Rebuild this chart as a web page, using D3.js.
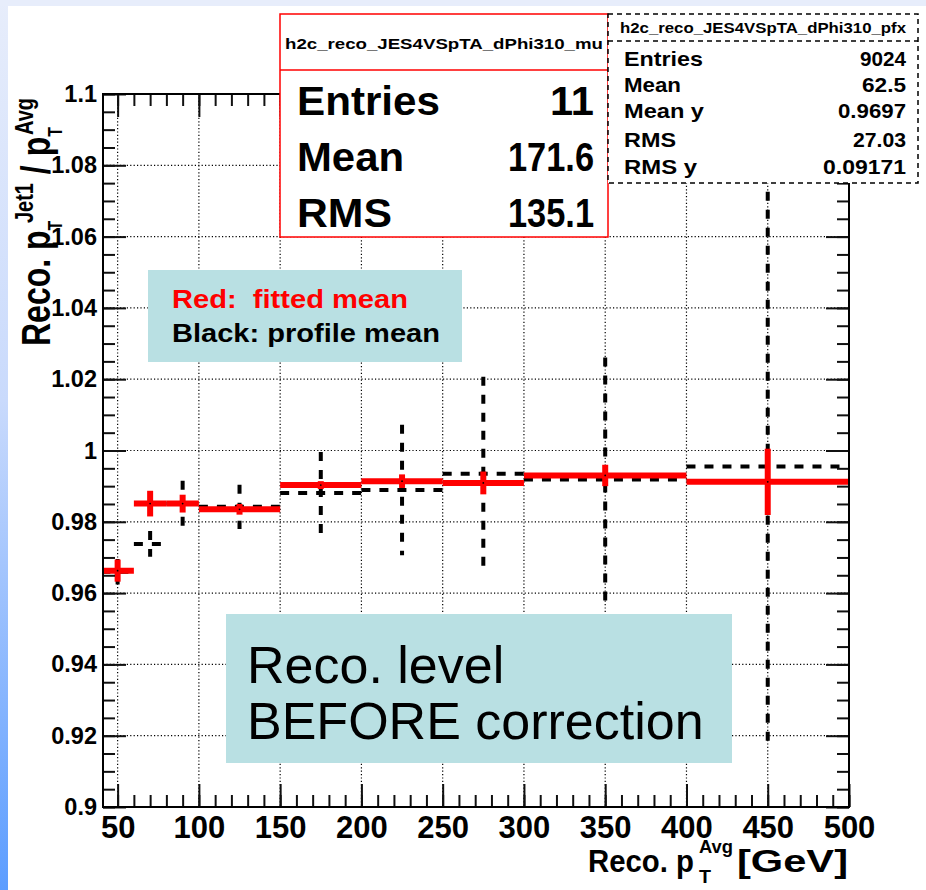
<!DOCTYPE html>
<html>
<head>
<meta charset="utf-8">
<script src="https://cdn.jsdelivr.net/npm/d3@7"></script>
<style>
  html, body { margin: 0; padding: 0; background: #fff; }
  svg { display: block; }
  text { font-family: "Liberation Sans", Arial, Helvetica, sans-serif; }
</style>
</head>
<body>
<script>
// Reconstructed pT^Avg bins (GeV)
const binLow    = [40, 60, 80, 100, 150, 200, 250, 300, 400];
const binHigh   = [60, 80, 100, 150, 200, 250, 300, 400, 500];
const binCenter = [50, 70, 90, 125, 175, 225, 275, 350, 450];

// Gaussian-fitted mean of pT^Jet1 / pT^Avg per bin (red)
const fitMean = [0.9663, 0.9851, 0.9851, 0.9835, 0.9903, 0.9914, 0.9909, 0.9930, 0.9912];
const fitErr  = [0.0031, 0.0036, 0.0025, 0.0015, 0.0011, 0.0019, 0.0032, 0.0030, 0.0093];

// Profile mean per bin (black)
const profMean = [0.9660, 0.9738, 0.9851, 0.9842, 0.9881, 0.9889, 0.9935, 0.9919, 0.9955];
const profErr  = [0.0036, 0.0036, 0.0064, 0.0062, 0.0115, 0.0183, 0.0272, 0.0342, 0.0771];

// Axis ticks
const xTickValues = [50, 100, 150, 200, 250, 300, 350, 400, 450, 500];
const xTickLabels = ["50", "100", "150", "200", "250", "300", "350", "400", "450", "500"];
const yTickValues = [0.9, 0.92, 0.94, 0.96, 0.98, 1.0, 1.02, 1.04, 1.06, 1.08, 1.1];
const yTickLabels = ["0.9", "0.92", "0.94", "0.96", "0.98", "1", "1.02", "1.04", "1.06", "1.08", "1.1"];
const xMinorTicks = d3.range(50, 501, 10);
const yMinorTicks = d3.range(0, 41).map(i => +(0.9 + i * 0.005).toFixed(3));

// Statistics boxes
const muTitle = "h2c_reco_JES4VSpTA_dPhi310_mu";
const muStatNames  = ["Entries", "Mean", "RMS"];
const muStatValues = ["11", "171.6", "135.1"];
const pfxTitle = "h2c_reco_JES4VSpTA_dPhi310_pfx";
const pfxStatNames  = ["Entries", "Mean", "Mean y", "RMS", "RMS y"];
const pfxStatValues = ["9024", "62.5", "0.9697", "27.03", "0.09171"];

const W = 926, H = 890;
const svg = d3.select("body").append("svg").attr("width", W).attr("height", H);

// slide background: pale band on top, blue gradient on the left
const defs = svg.append("defs");
const grad = defs.append("linearGradient").attr("id", "slideGrad")
  .attr("x1", 0).attr("y1", 0).attr("x2", 0).attr("y2", 1);
grad.append("stop").attr("offset", "0%").attr("stop-color", "#e7edfb");
grad.append("stop").attr("offset", "45%").attr("stop-color", "#c9dafc");
grad.append("stop").attr("offset", "100%").attr("stop-color", "#5c9dff");
svg.append("rect").attr("width", W).attr("height", H).attr("fill", "url(#slideGrad)");
svg.append("rect").attr("x", 0).attr("y", 0).attr("width", W).attr("height", 6).attr("fill", "#e7edfb");
svg.append("rect").attr("x", 8).attr("y", 6).attr("width", W - 8).attr("height", H - 6).attr("fill", "#fff");

const plot = { left: 103, right: 849, top: 94, bottom: 807 };
const x = d3.scaleLinear().domain([41, 500]).range([plot.left, plot.right]);
const y = d3.scaleLinear().domain([0.9, 1.1]).range([plot.bottom, plot.top]);

defs.append("clipPath").attr("id", "plotClip").append("rect")
  .attr("x", plot.left).attr("y", plot.top)
  .attr("width", plot.right - plot.left).attr("height", plot.bottom - plot.top);

// dotted grid at major ticks
const grid = svg.append("g").attr("stroke", "#000").attr("stroke-width", 1.2)
  .attr("stroke-dasharray", "1.2,2.2");
grid.selectAll("line.gx").data(xTickValues.filter(v => v < 500)).join("line")
  .attr("x1", d => x(d)).attr("x2", d => x(d))
  .attr("y1", plot.top).attr("y2", plot.bottom);
grid.selectAll("line.gy").data(yTickValues.filter(v => v > 0.9 && v < 1.1)).join("line")
  .attr("x1", plot.left).attr("x2", plot.right)
  .attr("y1", d => y(d)).attr("y2", d => y(d));

const data = binCenter.map((c, i) => ({
  c, lo: binLow[i], hi: binHigh[i],
  fm: fitMean[i], fe: fitErr[i], pm: profMean[i], pe: profErr[i]
}));

const marks = svg.append("g").attr("clip-path", "url(#plotClip)");

// profile means: dashed black
const prof = marks.append("g").attr("stroke", "#000").attr("stroke-width", 4)
  .attr("stroke-dasharray", "9,9").attr("fill", "none");
prof.selectAll("line.h").data(data).join("line").attr("class", "h")
  .attr("x1", d => x(d.lo)).attr("x2", d => x(d.hi))
  .attr("y1", d => y(d.pm)).attr("y2", d => y(d.pm));
prof.selectAll("line.v").data(data).join("line").attr("class", "v")
  .attr("x1", d => x(d.c)).attr("x2", d => x(d.c))
  .attr("y1", d => y(d.pm + d.pe)).attr("y2", d => y(d.pm - d.pe));

// fitted means: solid red
const fit = marks.append("g").attr("stroke", "#ff0000").attr("stroke-width", 6).attr("fill", "none");
fit.selectAll("line.h").data(data).join("line").attr("class", "h")
  .attr("x1", d => x(d.lo)).attr("x2", d => x(d.hi))
  .attr("y1", d => y(d.fm)).attr("y2", d => y(d.fm));
fit.selectAll("line.v").data(data).join("line").attr("class", "v")
  .attr("x1", d => x(d.c)).attr("x2", d => x(d.c))
  .attr("y1", d => y(d.fm + d.fe)).attr("y2", d => y(d.fm - d.fe));
marks.append("g").selectAll("circle").data(data).join("circle")
  .attr("cx", d => x(d.c)).attr("cy", d => y(d.fm)).attr("r", 0.9).attr("fill", "#000");

// axes: major and minor ticks on all four sides, pointing inwards
function styleAxis(g) {
  g.selectAll("path, line").attr("stroke", "#111").attr("stroke-width", 2);
  g.select(".domain").remove();
}
const fontBold = g => g.selectAll("text")
  .attr("font-family", "'Liberation Sans', Arial, sans-serif")
  .attr("font-weight", "bold").attr("fill", "#000");

svg.append("g").attr("transform", `translate(0,${plot.bottom})`)
  .call(d3.axisBottom(x).tickValues(xMinorTicks).tickSize(-12).tickFormat(""))
  .call(styleAxis);
svg.append("g").attr("transform", `translate(0,${plot.bottom})`)
  .call(d3.axisBottom(x).tickValues(xTickValues).tickSize(-23).tickPadding(9)
    .tickFormat((d, i) => xTickLabels[i]))
  .call(styleAxis).call(fontBold)
  .selectAll("text").attr("font-size", 31);
svg.append("g").attr("transform", `translate(0,${plot.top})`)
  .call(d3.axisTop(x).tickValues(xMinorTicks).tickSize(-12).tickFormat(""))
  .call(styleAxis);
svg.append("g").attr("transform", `translate(0,${plot.top})`)
  .call(d3.axisTop(x).tickValues(xTickValues).tickSize(-23).tickFormat(""))
  .call(styleAxis);

svg.append("g").attr("transform", `translate(${plot.left},0)`)
  .call(d3.axisLeft(y).tickValues(yMinorTicks).tickSize(-12).tickFormat(""))
  .call(styleAxis);
svg.append("g").attr("transform", `translate(${plot.left},0)`)
  .call(d3.axisLeft(y).tickValues(yTickValues).tickSize(-23).tickPadding(6)
    .tickFormat((d, i) => yTickLabels[i]))
  .call(styleAxis).call(fontBold)
  .selectAll("text").attr("font-size", 23.5);
svg.append("g").attr("transform", `translate(${plot.right},0)`)
  .call(d3.axisRight(y).tickValues(yMinorTicks).tickSize(-12).tickFormat(""))
  .call(styleAxis);
svg.append("g").attr("transform", `translate(${plot.right},0)`)
  .call(d3.axisRight(y).tickValues(yTickValues).tickSize(-23).tickFormat(""))
  .call(styleAxis);

// frame
svg.append("rect").attr("x", plot.left).attr("y", plot.top)
  .attr("width", plot.right - plot.left).attr("height", plot.bottom - plot.top)
  .attr("fill", "none").attr("stroke", "#000").attr("stroke-width", 2);

// helper: bold text squeezed or stretched to a given width
function fitText(g, xPos, yPos, size, width, str, anchor) {
  return g.append("text").attr("x", xPos).attr("y", yPos)
    .attr("font-size", size).attr("font-weight", "bold")
    .attr("text-anchor", anchor || "start")
    .attr("textLength", width).attr("lengthAdjust", "spacingAndGlyphs").text(str);
}

// x axis title: Reco. p_T^Avg [GeV], pieces placed one by one
const xTitle = svg.append("g");
fitText(xTitle, 588, 872, 31, 106, "Reco. p");
fitText(xTitle, 699, 883, 19, 12, "T");
fitText(xTitle, 699, 853, 19, 34, "Avg");
fitText(xTitle, 737, 872, 31, 111, "[GeV]");

// y axis title: Reco. p_T^Jet1 / p_T^Avg
const yt = svg.append("text").attr("transform", "translate(50,346) rotate(-90) scale(0.8,1)")
  .attr("text-anchor", "start").attr("font-weight", "bold").attr("font-size", 40);
yt.append("tspan").text("Reco. p");
yt.append("tspan").attr("font-size", 20).attr("dy", 12).text("T");
yt.append("tspan").attr("font-size", 25).attr("dx", -3).attr("dy", -29).text("Jet1");
yt.append("tspan").attr("font-size", 40).attr("dy", 17).text(" / p");
yt.append("tspan").attr("font-size", 20).attr("dy", 12).text("T");
yt.append("tspan").attr("font-size", 25).attr("dx", -10).attr("dy", -29).text("Avg");

// statistics box of the fitted-mean histogram
const mu = svg.append("g");
mu.append("rect").attr("x", 280).attr("y", 14).attr("width", 328).attr("height", 223)
  .attr("fill", "#fff").attr("stroke", "#ff0000").attr("stroke-width", 1.5);
mu.append("line").attr("x1", 280).attr("x2", 608).attr("y1", 70).attr("y2", 70)
  .attr("stroke", "#ff0000").attr("stroke-width", 1.5);
fitText(mu, 444, 49, 15, 318, muTitle, "middle");
const muNameW = [143, 107, 95];
const muValW = [44, 86, 86];
muStatNames.forEach((n, i) => {
  const by = 115 + i * 56;
  fitText(mu, 297, by, 40, muNameW[i], n);
  fitText(mu, 594, by, 40, muValW[i], muStatValues[i], "end");
});

// statistics box of the profile
const pfx = svg.append("g");
pfx.append("rect").attr("x", 608).attr("y", 14).attr("width", 310).attr("height", 169)
  .attr("fill", "#fff").attr("stroke", "#000").attr("stroke-width", 1.5)
  .attr("stroke-dasharray", "5,4");
pfx.append("line").attr("x1", 608).attr("x2", 918).attr("y1", 41).attr("y2", 41)
  .attr("stroke", "#000").attr("stroke-width", 1.5).attr("stroke-dasharray", "5,4");
fitText(pfx, 763, 33, 14, 286, pfxTitle, "middle");
const pfxBase = [66, 92, 118, 147, 174];
const pfxNameW = [79, 57, 80, 52, 73];
const pfxValW = [46, 44, 68, 53, 83];
pfxStatNames.forEach((n, i) => {
  fitText(pfx, 624, pfxBase[i], 21, pfxNameW[i], n);
  fitText(pfx, 906, pfxBase[i], 21, pfxValW[i], pfxStatValues[i], "end");
});

// annotation boxes
const note = svg.append("g");
note.append("rect").attr("x", 148).attr("y", 270).attr("width", 314).attr("height", 92)
  .attr("fill", "#b9e0e3");
fitText(note, 172, 308, 25, 236, "Red:  fitted mean")
  .attr("fill", "#ff0000").attr("xml:space", "preserve");
fitText(note, 172, 342, 25, 268, "Black: profile mean").attr("fill", "#000");

note.append("rect").attr("x", 226).attr("y", 614).attr("width", 506).attr("height", 149)
  .attr("fill", "#b9e0e3");
note.append("text").attr("x", 247).attr("y", 683).attr("font-size", 52)
  .attr("fill", "#000").text("Reco. level");
note.append("text").attr("x", 247).attr("y", 739).attr("font-size", 52)
  .attr("fill", "#000").text("BEFORE correction");
</script>
</body>
</html>
